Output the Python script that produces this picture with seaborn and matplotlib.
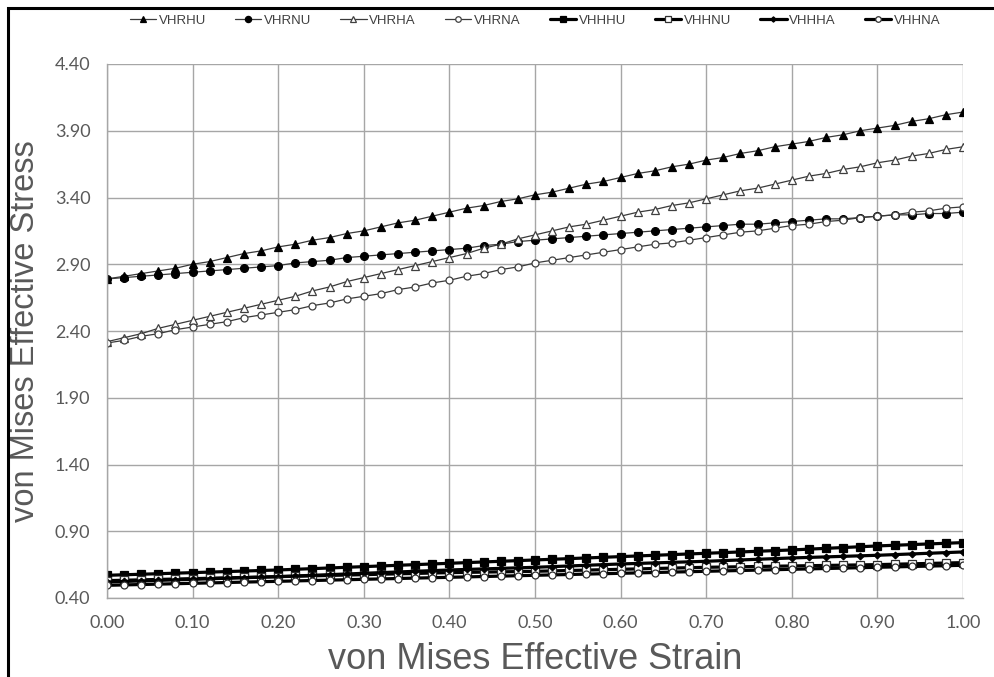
import matplotlib
matplotlib.use("Agg")
import matplotlib.pyplot as plt
import seaborn as sns
import pandas as pd
from matplotlib.patches import Rectangle

strain = [0.00, 0.02, 0.04, 0.06, 0.08, 0.10, 0.12, 0.14, 0.16, 0.18,
          0.20, 0.22, 0.24, 0.26, 0.28, 0.30, 0.32, 0.34, 0.36, 0.38,
          0.40, 0.42, 0.44, 0.46, 0.48, 0.50, 0.52, 0.54, 0.56, 0.58,
          0.60, 0.62, 0.64, 0.66, 0.68, 0.70, 0.72, 0.74, 0.76, 0.78,
          0.80, 0.82, 0.84, 0.86, 0.88, 0.90, 0.92, 0.94, 0.96, 0.98, 1.00]

VHRHU = [2.79, 2.81, 2.83, 2.85, 2.87, 2.90, 2.92, 2.95, 2.98, 3.00,
         3.03, 3.05, 3.08, 3.10, 3.13, 3.15, 3.18, 3.21, 3.23, 3.26,
         3.29, 3.32, 3.34, 3.37, 3.39, 3.42, 3.44, 3.47, 3.50, 3.52,
         3.55, 3.58, 3.60, 3.63, 3.65, 3.68, 3.70, 3.73, 3.75, 3.78,
         3.80, 3.82, 3.85, 3.87, 3.90, 3.92, 3.94, 3.97, 3.99, 4.02, 4.04]

VHRNU = [2.79, 2.80, 2.81, 2.82, 2.83, 2.84, 2.85, 2.86, 2.87, 2.88,
         2.89, 2.91, 2.92, 2.93, 2.95, 2.96, 2.97, 2.98, 2.99, 3.00,
         3.01, 3.02, 3.04, 3.05, 3.07, 3.08, 3.09, 3.10, 3.11, 3.12,
         3.13, 3.14, 3.15, 3.16, 3.17, 3.18, 3.19, 3.20, 3.20, 3.21,
         3.22, 3.23, 3.24, 3.24, 3.25, 3.26, 3.27, 3.27, 3.28, 3.28, 3.29]

VHRHA = [2.32, 2.35, 2.38, 2.42, 2.45, 2.48, 2.51, 2.54, 2.57, 2.60,
         2.63, 2.66, 2.70, 2.73, 2.77, 2.80, 2.83, 2.86, 2.89, 2.92,
         2.95, 2.98, 3.02, 3.05, 3.09, 3.12, 3.15, 3.18, 3.20, 3.23,
         3.26, 3.29, 3.31, 3.34, 3.36, 3.39, 3.42, 3.45, 3.47, 3.50,
         3.53, 3.56, 3.58, 3.61, 3.63, 3.66, 3.68, 3.71, 3.73, 3.76, 3.78]

VHRNA = [2.31, 2.33, 2.36, 2.38, 2.41, 2.43, 2.45, 2.47, 2.50, 2.52,
         2.54, 2.56, 2.59, 2.61, 2.64, 2.66, 2.68, 2.71, 2.73, 2.76,
         2.78, 2.81, 2.83, 2.86, 2.88, 2.91, 2.93, 2.95, 2.97, 2.99,
         3.01, 3.03, 3.05, 3.06, 3.08, 3.10, 3.12, 3.14, 3.15, 3.17,
         3.19, 3.20, 3.22, 3.23, 3.25, 3.26, 3.27, 3.29, 3.30, 3.32, 3.33]

VHHHU = [0.570, 0.574, 0.578, 0.582, 0.586, 0.590, 0.594, 0.598, 0.602, 0.606,
         0.610, 0.615, 0.620, 0.625, 0.630, 0.635, 0.640, 0.645, 0.650, 0.655,
         0.660, 0.665, 0.670, 0.675, 0.680, 0.685, 0.690, 0.695, 0.700, 0.705,
         0.710, 0.715, 0.720, 0.725, 0.730, 0.735, 0.740, 0.745, 0.750, 0.755,
         0.760, 0.766, 0.772, 0.778, 0.784, 0.790, 0.795, 0.800, 0.805, 0.810, 0.815]

VHHNU = [0.530, 0.533, 0.536, 0.539, 0.542, 0.545, 0.548, 0.551, 0.554, 0.557,
         0.560, 0.563, 0.566, 0.569, 0.572, 0.575, 0.578, 0.581, 0.584, 0.587,
         0.590, 0.592, 0.594, 0.596, 0.598, 0.600, 0.603, 0.606, 0.609, 0.612,
         0.615, 0.618, 0.621, 0.624, 0.627, 0.630, 0.632, 0.634, 0.636, 0.638,
         0.640, 0.642, 0.644, 0.646, 0.648, 0.650, 0.653, 0.656, 0.659, 0.662, 0.665]

VHHHA = [0.520, 0.524, 0.528, 0.532, 0.536, 0.540, 0.544, 0.548, 0.552, 0.556,
         0.560, 0.565, 0.570, 0.575, 0.580, 0.585, 0.590, 0.595, 0.600, 0.605,
         0.610, 0.614, 0.618, 0.622, 0.626, 0.630, 0.635, 0.640, 0.645, 0.650,
         0.655, 0.659, 0.663, 0.667, 0.671, 0.675, 0.680, 0.685, 0.690, 0.695,
         0.700, 0.704, 0.708, 0.712, 0.716, 0.720, 0.725, 0.730, 0.735, 0.740, 0.745]

VHHNA = [0.495, 0.498, 0.501, 0.504, 0.507, 0.510, 0.513, 0.516, 0.519, 0.522,
         0.525, 0.528, 0.531, 0.534, 0.537, 0.540, 0.543, 0.546, 0.549, 0.552,
         0.555, 0.558, 0.561, 0.564, 0.567, 0.570, 0.573, 0.576, 0.579, 0.582,
         0.585, 0.588, 0.591, 0.594, 0.597, 0.600, 0.603, 0.606, 0.609, 0.612,
         0.615, 0.618, 0.621, 0.624, 0.627, 0.630, 0.633, 0.636, 0.639, 0.642, 0.645]

series_names = ["VHRHU", "VHRNU", "VHRHA", "VHRNA", "VHHHU", "VHHNU", "VHHHA", "VHHNA"]
series_values = [VHRHU, VHRNU, VHRHA, VHRNA, VHHHU, VHHNU, VHHHA, VHHNA]

x_ticks = [0.00, 0.10, 0.20, 0.30, 0.40, 0.50, 0.60, 0.70, 0.80, 0.90, 1.00]
y_ticks = [0.40, 0.90, 1.40, 1.90, 2.40, 2.90, 3.40, 3.90, 4.40]

x_label = "von Mises Effective Strain"
y_label = "von Mises Effective Stress"

sns.set_style("white")
plt.rcParams["font.family"] = ["Liberation Sans", "DejaVu Sans"]

styles = {
    "VHRHU": dict(marker="^", ms=5.4, mfc="black", mec="black", color="#3a3a3a", lw=0.9),
    "VHRNU": dict(marker="o", ms=5.6, mfc="black", mec="black", color="#3a3a3a", lw=0.9),
    "VHRHA": dict(marker="^", ms=5.2, mfc="white", mec="#404040", color="#3a3a3a", lw=0.9),
    "VHRNA": dict(marker="o", ms=5.0, mfc="white", mec="#404040", color="#3a3a3a", lw=0.9),
    "VHHHU": dict(marker="s", ms=6.0, mfc="black", mec="black", color="black", lw=2.3),
    "VHHNU": dict(marker="s", ms=5.6, mfc="white", mec="#303030", color="black", lw=2.3),
    "VHHHA": dict(marker="D", ms=3.4, mfc="black", mec="black", color="black", lw=2.3),
    "VHHNA": dict(marker="o", ms=5.0, mfc="white", mec="#303030", color="black", lw=2.3),
}

df = pd.DataFrame({"strain": strain})
for n, v in zip(series_names, series_values):
    df[n] = v

fig = plt.figure(figsize=(9.95, 6.77), dpi=100)
ax = fig.add_axes([107 / 995, 1 - 598 / 677, (963 - 107) / 995, (598 - 64) / 677])

for n in series_names:
    st = styles[n]
    sns.lineplot(data=df, x="strain", y=n, ax=ax, label=n,
                 color=st["color"], linewidth=st["lw"], marker=st["marker"],
                 markersize=st["ms"], markerfacecolor=st["mfc"],
                 markeredgecolor=st["mec"], markeredgewidth=0.9)

ax.set_xlim(0, 1.0)
ax.set_ylim(0.40, 4.40)
ax.set_xticks(x_ticks)
ax.set_yticks(y_ticks)
ax.set_xticklabels([f"{t:.2f}" for t in x_ticks])
ax.set_yticklabels([f"{t:.2f}" for t in y_ticks])
ax.grid(True, color="#a6a6a6", linewidth=1.0)
ax.set_axisbelow(True)
for s in ["top", "right"]:
    ax.spines[s].set_visible(False)
for s in ["left", "bottom"]:
    ax.spines[s].set_color("#a6a6a6")
    ax.spines[s].set_linewidth(1.0)
ax.tick_params(axis="both", which="major", direction="out", length=6, width=1,
               color="#a6a6a6", labelcolor="#595959", labelsize=13, pad=6)
for lab in ax.get_xticklabels() + ax.get_yticklabels():
    lab.set_family(["Lato", "DejaVu Sans"])

ax.set_xlabel(x_label, fontsize=26, color="#595959", labelpad=8)
ax.set_ylabel(y_label, fontsize=23.5, color="#595959", labelpad=10)

handles, labels = ax.get_legend_handles_labels()
ax.get_legend().remove()
fig.legend(handles, labels, loc="center", bbox_to_anchor=(535 / 995, 1 - 21 / 677),
           ncol=8, frameon=False, handlelength=2.0, handletextpad=0.2,
           columnspacing=2.2, markerscale=0.8,
           prop={"family": ["Liberation Sans", "DejaVu Sans"], "size": 9.5})
for t in fig.legends[0].get_texts():
    t.set_color("#404040")

fig.patches.append(Rectangle((8 / 995, -0.05), 1.2, 1.05 - 8 / 677,
                             transform=fig.transFigure, fill=False,
                             edgecolor="black", linewidth=2.2))

fig.savefig("out.png", dpi=100)
